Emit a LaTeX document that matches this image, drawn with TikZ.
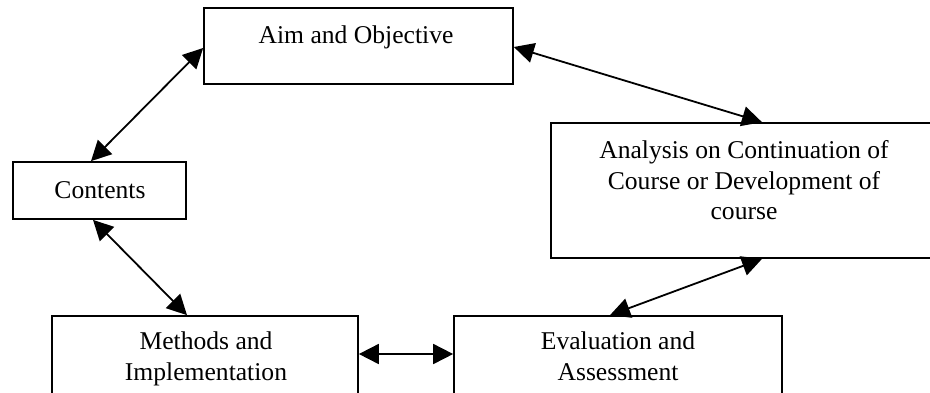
\documentclass[tikz,border=0pt]{standalone}
\usepackage{fontspec}
\setmainfont{Liberation Serif}
\usetikzlibrary{arrows.meta}
\begin{document}
\begin{tikzpicture}[x=0.5pt,y=-0.5pt,
  box/.style={draw, line width=0.85pt, inner sep=0pt},
  txt/.style={inner sep=0pt, anchor=base, font=\fontsize{12.8}{15.5}\selectfont},
  link/.style={line width=0.9pt, {Triangle[length=10pt,width=10pt]}-{Triangle[length=10pt,width=10pt]}}]
\useasboundingbox (0,0) rectangle (930,392);
\clip (0,0) rectangle (930,392);
\fill[white] (0,0) rectangle (930,392);
% boxes
\node[box, minimum width=154.5pt, minimum height=38pt] (aim) at (358.5,46) {};
\node[box, minimum width=86.5pt, minimum height=28.5pt] (contents) at (99.5,190.5) {};
\node[box, minimum width=204.5pt, minimum height=67.5pt] (analysis) at (755.5,190.5) {};
\node[box, minimum width=153pt, minimum height=47pt] (methods) at (205,363) {};
\node[box, minimum width=164pt, minimum height=47pt] (evaluation) at (618,363) {};
% texts
\node[txt] (aimT) at (356,43) {Aim and Objective};
\node[txt] (contentsT) at (100,198) {Contents};
\node[txt] (anaT1) at (744,158) {Analysis on Continuation of};
\node[txt] (anaT2) at (744,189) {Course or Development of};
\node[txt] (anaT3) at (744,219) {course};
\node[txt] (metT1) at (206,349) {Methods and};
\node[txt] (metT2) at (206,380) {Implementation};
\node[txt] (evaT1) at (618,349) {Evaluation and};
\node[txt] (evaT2) at (618,380) {Assessment};
% connectors
\draw[link] ([xshift=-4.25pt]contents.north) -- ([yshift=-1pt]aim.west);
\draw[link] ([yshift=-0.5pt]aim.east) -- ([xshift=3.25pt]analysis.north);
\draw[link] ([xshift=-3.25pt]contents.south) -- ([xshift=-9pt]methods.north);
\draw[link] ([yshift=4.5pt]methods.east) -- ([yshift=4.5pt]evaluation.west);
\draw[link] ([xshift=-4pt]evaluation.north) -- ([xshift=3.25pt]analysis.south);
\end{tikzpicture}
\end{document}
